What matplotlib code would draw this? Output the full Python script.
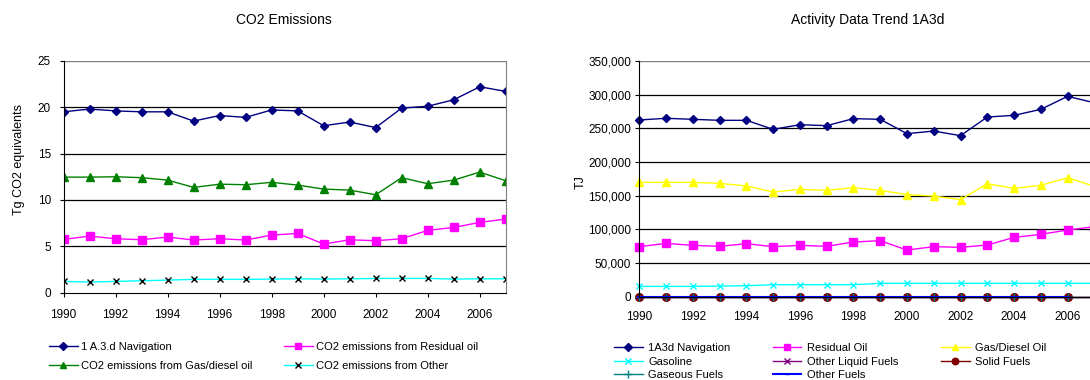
import numpy as np
import matplotlib
matplotlib.use("Agg")
import matplotlib.pyplot as plt
from matplotlib.ticker import FuncFormatter

plt.rcParams['font.family'] = ['Liberation Sans', 'DejaVu Sans']

years = list(range(1990, 2008))

# left chart: CO2 emissions (Tg CO2 eq)
co2_navigation = [19.5, 19.8, 19.6, 19.5, 19.5, 18.5, 19.1, 18.9, 19.7, 19.6,
                  18.0, 18.4, 17.8, 19.9, 20.1, 20.8, 22.2, 21.7]
co2_residual = [5.75, 6.1, 5.82, 5.71, 6.0, 5.68, 5.82, 5.68, 6.21, 6.39,
                5.24, 5.71, 5.6, 5.82, 6.72, 7.04, 7.58, 7.94]
co2_gasdiesel = [12.46, 12.46, 12.5, 12.4, 12.14, 11.35, 11.7, 11.64, 11.9, 11.6,
                 11.17, 11.06, 10.56, 12.4, 11.75, 12.14, 13.0, 12.07]
co2_other = [1.22, 1.15, 1.22, 1.29, 1.36, 1.44, 1.44, 1.44, 1.47, 1.5,
             1.47, 1.5, 1.54, 1.54, 1.54, 1.47, 1.5, 1.5]

# right chart: activity data (TJ)
ad_navigation = [262400, 264900, 263400, 261900, 261900, 248500, 255400, 254000, 264400, 263400,
                 242100, 246000, 239100, 266800, 269300, 278200, 297500, 288000]
ad_residual = [74300, 79200, 76200, 74800, 78700, 74300, 76200, 74800, 81200, 83200,
               69300, 74300, 73300, 76700, 88100, 92600, 99000, 104000]
ad_gasdiesel = [169800, 169800, 169800, 168300, 164400, 155400, 159400, 157900, 161900, 157900,
                151500, 149500, 144100, 167800, 160900, 165300, 176700, 164000]
ad_gasoline = [15300, 15300, 15300, 15800, 16300, 17800, 17800, 17800, 17800, 19800,
               19800, 19800, 19800, 19800, 19800, 19800, 19800, 19800]
ad_other_liquid = [0] * 18
ad_solid = [0] * 18
ad_gaseous = [0] * 18
ad_other_fuels = [0] * 17 + [np.nan]

fig = plt.figure(figsize=(10.9, 3.8), dpi=100)

# ---------- left chart
ax1 = fig.add_axes([0.0583, 0.2297, 0.4057, 0.6103])
h1, = ax1.plot(years, co2_navigation, color='#000080', marker='D', ms=4.5, lw=1, label='1 A.3.d Navigation')
h2, = ax1.plot(years, co2_residual, color='#FF00FF', marker='s', ms=5.5, lw=1, label='CO2 emissions from Residual oil')
h3, = ax1.plot(years, co2_gasdiesel, color='#008000', marker='^', ms=5.5, lw=1, label='CO2 emissions from Gas/diesel oil')
h4, = ax1.plot(years, co2_other, color='#00FFFF', marker='x', ms=5, mec='black', mew=1, lw=1, label='CO2 emissions from Other')
ax1.set_xlim(1990, 2007)
ax1.set_ylim(0, 25)
ax1.set_yticks([0, 5, 10, 15, 20, 25])
ax1.set_xticks(range(1990, 2007, 2))
for y in [5, 10, 15, 20]:
    ax1.axhline(y, color='black', lw=0.9, zorder=0)
ax1.axhline(25, color='#808080', lw=1, zorder=0)
ax1.spines['top'].set_visible(False)
ax1.spines['right'].set_color('#808080')
ax1.tick_params(axis='y', labelsize=8.5, length=3, width=0.8, pad=6)
ax1.tick_params(axis='x', labelsize=8.5, length=3, width=0.8, pad=9)
fig.text(0.260, 0.947, 'CO2 Emissions', ha='center', va='center', fontsize=10)
fig.text(0.017, 0.58, 'Tg CO2 equivalents', rotation=90, ha='center', va='center', fontsize=9)
fig.legend([h1, h3, h2, h4], [h.get_label() for h in [h1, h3, h2, h4]], ncol=2,
           loc='upper left', bbox_to_anchor=(0.045, 0.101), frameon=False,
           fontsize=8, handlelength=2.6, handletextpad=0.3, columnspacing=2.8,
           labelspacing=0.8, borderaxespad=0, borderpad=0, markerscale=0.85)

# ---------- right chart
ax2 = fig.add_axes([0.5865, 0.2192, 0.4175, 0.6203])
g1, = ax2.plot(years, ad_navigation, color='#000080', marker='D', ms=4.5, lw=1, label='1A3d Navigation')
g2, = ax2.plot(years, ad_residual, color='#FF00FF', marker='s', ms=5.5, lw=1, label='Residual Oil')
g3, = ax2.plot(years, ad_gasdiesel, color='#FFFF00', marker='^', ms=5.5, lw=1, label='Gas/Diesel Oil')
g4, = ax2.plot(years, ad_gasoline, color='#00FFFF', marker='x', ms=5, mew=1, lw=1, label='Gasoline')
g5, = ax2.plot(years, ad_other_liquid, color='#800080', marker='x', ms=5, mew=1, lw=1, label='Other Liquid Fuels')
g6, = ax2.plot(years, ad_solid, color='#800000', marker='o', ms=5.5, lw=1, label='Solid Fuels')
g7, = ax2.plot(years, ad_gaseous, color='#008080', marker='+', ms=6, mew=1, lw=1, label='Gaseous Fuels')
g8, = ax2.plot(years, ad_other_fuels, color='#0000FF', marker='_', ms=4, lw=1.5, label='Other Fuels')
ax2.set_xlim(1990, 2007)
ax2.set_ylim(0, 350000)
ax2.set_yticks(range(0, 350001, 50000))
ax2.yaxis.set_major_formatter(FuncFormatter(lambda v, p: f'{int(v):,}'))
ax2.set_xticks(range(1990, 2007, 2))
for y in range(50000, 300001, 50000):
    ax2.axhline(y, color='black', lw=0.9, zorder=0)
ax2.axhline(350000, color='#808080', lw=1, zorder=0)
ax2.spines['top'].set_visible(False)
ax2.spines['right'].set_visible(False)
ax2.tick_params(axis='y', labelsize=8.5, length=3, width=0.8, pad=3)
ax2.tick_params(axis='x', labelsize=8.5, length=0, pad=10)
for ln in ax2.get_lines()[:8]:
    ln.set_clip_on(False)
fig.text(0.796, 0.947, 'Activity Data Trend 1A3d', ha='center', va='center', fontsize=10)
fig.text(0.533, 0.52, 'TJ', rotation=90, ha='center', va='center', fontsize=9)
order = [g1, g4, g7, g2, g5, g8, g3, g6]
fig.legend(order, [h.get_label() for h in order], ncol=3,
           loc='upper left', bbox_to_anchor=(0.563, 0.097), frameon=False,
           fontsize=8, handlelength=2.6, handletextpad=0.5, columnspacing=3.8,
           labelspacing=0.32, borderaxespad=0, borderpad=0, markerscale=0.85)

fig.savefig('out.png', dpi=100)
